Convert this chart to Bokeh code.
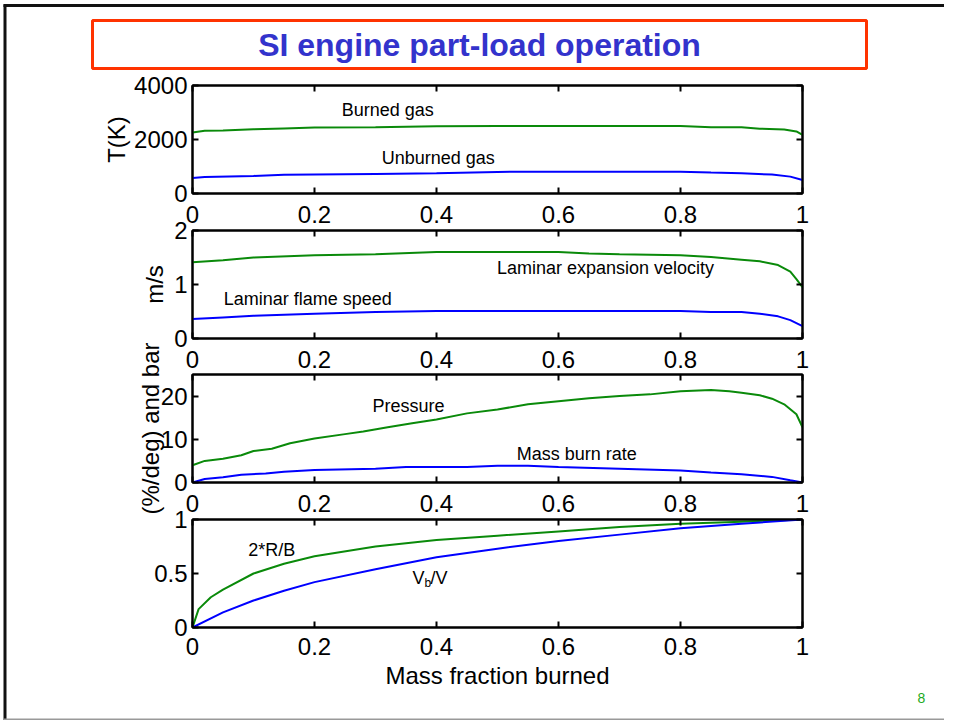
from bokeh.plotting import figure
from bokeh.models import Range1d, LinearAxis, FixedTicker, GridBox, Column
from bokeh.core.properties import value
from bokeh.embed import file_html
from bokeh.resources import INLINE

# ---------------- data ----------------
x_ticks = [0, 0.2, 0.4, 0.6, 0.8, 1]
x_tick_labels = ["0", "0.2", "0.4", "0.6", "0.8", "1"]

# Panel 1: temperatures (K)
t_burned_x = [0, 0.02, 0.05, 0.1, 0.15, 0.2, 0.3, 0.4, 0.5, 0.6, 0.7, 0.8, 0.85, 0.9, 0.93, 0.97, 0.99, 1.0]
t_burned = [2260, 2320, 2330, 2380, 2410, 2440, 2450, 2490, 2500, 2500, 2500, 2500, 2450, 2450, 2400, 2370, 2300, 2170]
t_unburned_x = [0, 0.02, 0.1, 0.15, 0.2, 0.3, 0.4, 0.5, 0.6, 0.7, 0.8, 0.85, 0.9, 0.95, 0.98, 1.0]
t_unburned = [575, 610, 650, 690, 700, 725, 750, 800, 810, 810, 810, 775, 750, 700, 625, 500]
t_ticks = [0, 2000, 4000]
t_tick_labels = ["0", "2000", "4000"]

# Panel 2: velocities (m/s)
v_exp_x = [0, 0.05, 0.1, 0.2, 0.3, 0.4, 0.5, 0.6, 0.65, 0.7, 0.8, 0.85, 0.9, 0.93, 0.96, 0.98, 0.99, 1.0]
v_exp = [1.41, 1.45, 1.50, 1.54, 1.56, 1.60, 1.60, 1.60, 1.575, 1.56, 1.54, 1.51, 1.46, 1.43, 1.36, 1.24, 1.10, 0.95]
v_flame_x = [0, 0.05, 0.1, 0.2, 0.3, 0.4, 0.5, 0.6, 0.7, 0.8, 0.85, 0.9, 0.93, 0.96, 0.98, 1.0]
v_flame = [0.36, 0.39, 0.42, 0.46, 0.49, 0.51, 0.51, 0.51, 0.51, 0.51, 0.49, 0.49, 0.46, 0.41, 0.34, 0.23]
v_ticks = [0, 1, 2]
v_tick_labels = ["0", "1", "2"]

# Panel 3: pressure (bar) and mass burn rate (%/deg)
p_x = [0, 0.02, 0.05, 0.08, 0.1, 0.13, 0.16, 0.2, 0.25, 0.28, 0.32, 0.36, 0.4, 0.45, 0.5, 0.55,
       0.6, 0.65, 0.7, 0.75, 0.8, 0.85, 0.88, 0.9, 0.93, 0.95, 0.97, 0.99, 1.0]
pressure = [4.0, 5.0, 5.5, 6.3, 7.3, 7.8, 9.1, 10.2, 11.2, 11.8, 12.8, 13.7, 14.6, 16.0, 16.9, 18.1,
            18.8, 19.5, 20.0, 20.4, 21.1, 21.4, 21.1, 20.8, 20.2, 19.4, 18.1, 15.8, 12.8]
mbr_x = [0, 0.02, 0.05, 0.08, 0.12, 0.15, 0.2, 0.3, 0.35, 0.45, 0.5, 0.55, 0.6, 0.7, 0.8, 0.85, 0.9, 0.95, 0.98, 1.0]
mass_burn_rate = [0, 0.8, 1.2, 1.8, 2.1, 2.5, 2.9, 3.2, 3.6, 3.6, 3.85, 3.85, 3.6, 3.2, 2.8, 2.3, 1.9, 1.3, 0.5, 0]
p_ticks = [0, 10, 20]
p_tick_labels = ["0", "10", "20"]

# Panel 4: 2*R/B and Vb/V
rb_x = [0, 0.01, 0.03, 0.05, 0.1, 0.15, 0.2, 0.3, 0.4, 0.5, 0.6, 0.7, 0.8, 0.9, 1.0]
two_r_over_b = [0, 0.17, 0.28, 0.35, 0.5, 0.59, 0.66, 0.75, 0.81, 0.85, 0.89, 0.93, 0.96, 0.98, 1.0]
vb_x = [0, 0.05, 0.1, 0.15, 0.2, 0.3, 0.4, 0.5, 0.6, 0.7, 0.8, 0.9, 1.0]
vb_over_v = [0, 0.14, 0.25, 0.34, 0.42, 0.54, 0.65, 0.73, 0.80, 0.86, 0.92, 0.96, 1.0]
f_ticks = [0, 0.5, 1]
f_tick_labels = ["0", "0.5", "1"]

# ---------------- styling / layout ----------------
FONT = "Liberation Sans"
GREEN = "#0A8A0A"
BLUE = "#0000FF"
PAGE_W, PAGE_H = 944, 720
FRAME_LEFT, FRAME_W, FRAME_H = 192, 610, 108


def style_axis(ax, labels_on):
    ax.axis_line_width = 2
    ax.axis_line_color = "black"
    ax.major_tick_in = 6
    ax.major_tick_out = 0
    ax.major_tick_line_width = 2
    ax.major_tick_line_color = "black"
    ax.minor_tick_line_color = None
    ax.major_label_text_font = FONT
    ax.major_label_text_font_size = "24px"
    ax.major_label_text_color = "black" if labels_on else None
    ax.axis_label_text_font = FONT
    ax.axis_label_text_font_size = "24px"
    ax.axis_label_text_font_style = "normal"
    ax.axis_label_text_color = "black"


def make_panel(top, y_end, y_ticks, y_labels, y_title, y_title_standoff, x_title=None):
    p = figure(frame_width=FRAME_W, frame_height=FRAME_H,
               x_range=Range1d(0, 1), y_range=Range1d(0, y_end),
               min_border_left=FRAME_LEFT, min_border_right=PAGE_W - FRAME_LEFT - FRAME_W,
               min_border_top=top, min_border_bottom=PAGE_H - top - FRAME_H,
               x_axis_location=None, y_axis_location=None,
               output_backend="svg", toolbar_location=None, tools="")
    p.border_fill_color = None
    p.background_fill_color = None
    p.outline_line_color = "black"
    p.outline_line_width = 2
    p.grid.visible = False

    xo = dict(zip(x_ticks, x_tick_labels))
    yo = dict(zip(y_ticks, y_labels))

    below = LinearAxis(ticker=FixedTicker(ticks=x_ticks), major_label_overrides=xo)
    style_axis(below, True)
    below.major_label_standoff = 10 if x_title else 12
    if x_title:
        below.axis_label = x_title
        below.axis_label_standoff = 4
    above = LinearAxis(ticker=FixedTicker(ticks=x_ticks), major_label_overrides=xo)
    style_axis(above, False)
    left = LinearAxis(ticker=FixedTicker(ticks=y_ticks), major_label_overrides=yo,
                      axis_label=y_title)
    style_axis(left, True)
    left.major_label_standoff = 5
    left.axis_label_standoff = y_title_standoff
    right = LinearAxis(ticker=FixedTicker(ticks=y_ticks), major_label_overrides=yo)
    style_axis(right, False)

    p.add_layout(below, "below")
    p.add_layout(above, "above")
    p.add_layout(left, "left")
    p.add_layout(right, "right")
    return p


def annotate(p, x, y, txt, size="18px", align="center", x_off=0, y_off=0):
    p.text(x=[x], y=[y], text=[txt], text_font=value(FONT), text_font_size=size,
           text_align=align, text_baseline="middle", text_color="black",
           x_offset=x_off, y_offset=y_off)


# Panel 1
p1 = make_panel(85, 4000, t_ticks, t_tick_labels, "T(K)", 1)
p1.line(t_burned_x, t_burned, line_color=GREEN, line_width=2)
p1.line(t_unburned_x, t_unburned, line_color=BLUE, line_width=2)
annotate(p1, 0.32, 3110, "Burned gas")
annotate(p1, 0.403, 1330, "Unburned gas")

# Panel 2
p2 = make_panel(230, 2, v_ticks, v_tick_labels, "m/s", 3)
p2.line(v_exp_x, v_exp, line_color=GREEN, line_width=2)
p2.line(v_flame_x, v_flame, line_color=BLUE, line_width=2)
annotate(p2, 0.677, 1.30, "Laminar expansion velocity")
annotate(p2, 0.189, 0.74, "Laminar flame speed")

# Panel 3
p3 = make_panel(374, 25, p_ticks, p_tick_labels, "(%/deg) and bar", -6)
p3.line(p_x, pressure, line_color=GREEN, line_width=2)
p3.line(mbr_x, mass_burn_rate, line_color=BLUE, line_width=2)
annotate(p3, 0.354, 17.8, "Pressure")
annotate(p3, 0.63, 6.7, "Mass burn rate")

# Panel 4
p4 = make_panel(519, 1, f_ticks, f_tick_labels, "", 4, x_title="Mass fraction burned")
p4.line(rb_x, two_r_over_b, line_color=GREEN, line_width=2)
p4.line(vb_x, vb_over_v, line_color=BLUE, line_width=2)
annotate(p4, 0.13, 0.72, "2*R/B")
annotate(p4, 0.3607, 0.454, "V", align="left")
annotate(p4, 0.3607, 0.454, "b", size="12px", align="left", x_off=12, y_off=5)
annotate(p4, 0.3607, 0.454, "/V", align="left", x_off=18)

# Slide background (title box, borders, page number), coordinates in page pixels
bg = figure(width=PAGE_W, height=PAGE_H, x_range=Range1d(0, PAGE_W), y_range=Range1d(PAGE_H, 0),
            min_border=0, x_axis_location=None, y_axis_location=None,
            output_backend="svg", toolbar_location=None, tools="")
bg.outline_line_color = None
bg.grid.visible = False
bg.segment(x0=[4.5], y0=[4], x1=[4.5], y1=[PAGE_H], line_color="#111111", line_width=3)
bg.segment(x0=[3], y0=[5], x1=[PAGE_W], y1=[5], line_color="#111111", line_width=3)
bg.segment(x0=[3], y0=[719], x1=[PAGE_W], y1=[719], line_color="#999999", line_width=2)
bg.quad(left=[92], right=[866], top=[20], bottom=[68], fill_color=None,
        line_color="#FF3300", line_width=3)
bg.text(x=[479], y=[44], text=["SI engine part-load operation"], text_font=value(FONT),
        text_font_size="32px", text_font_style="bold", text_color="#3333CC",
        text_align="center", text_baseline="middle")
bg.text(x=[921], y=[697], text=["8"], text_font=value(FONT), text_font_size="14px",
        text_color="#22AA22", text_align="center", text_baseline="middle")

layers = [Column(children=[f]) for f in (bg, p1, p2, p3, p4)]
layout = GridBox(children=[(layer, 0, 0) for layer in layers])

open("out.html", "w").write(file_html(layout, INLINE))
